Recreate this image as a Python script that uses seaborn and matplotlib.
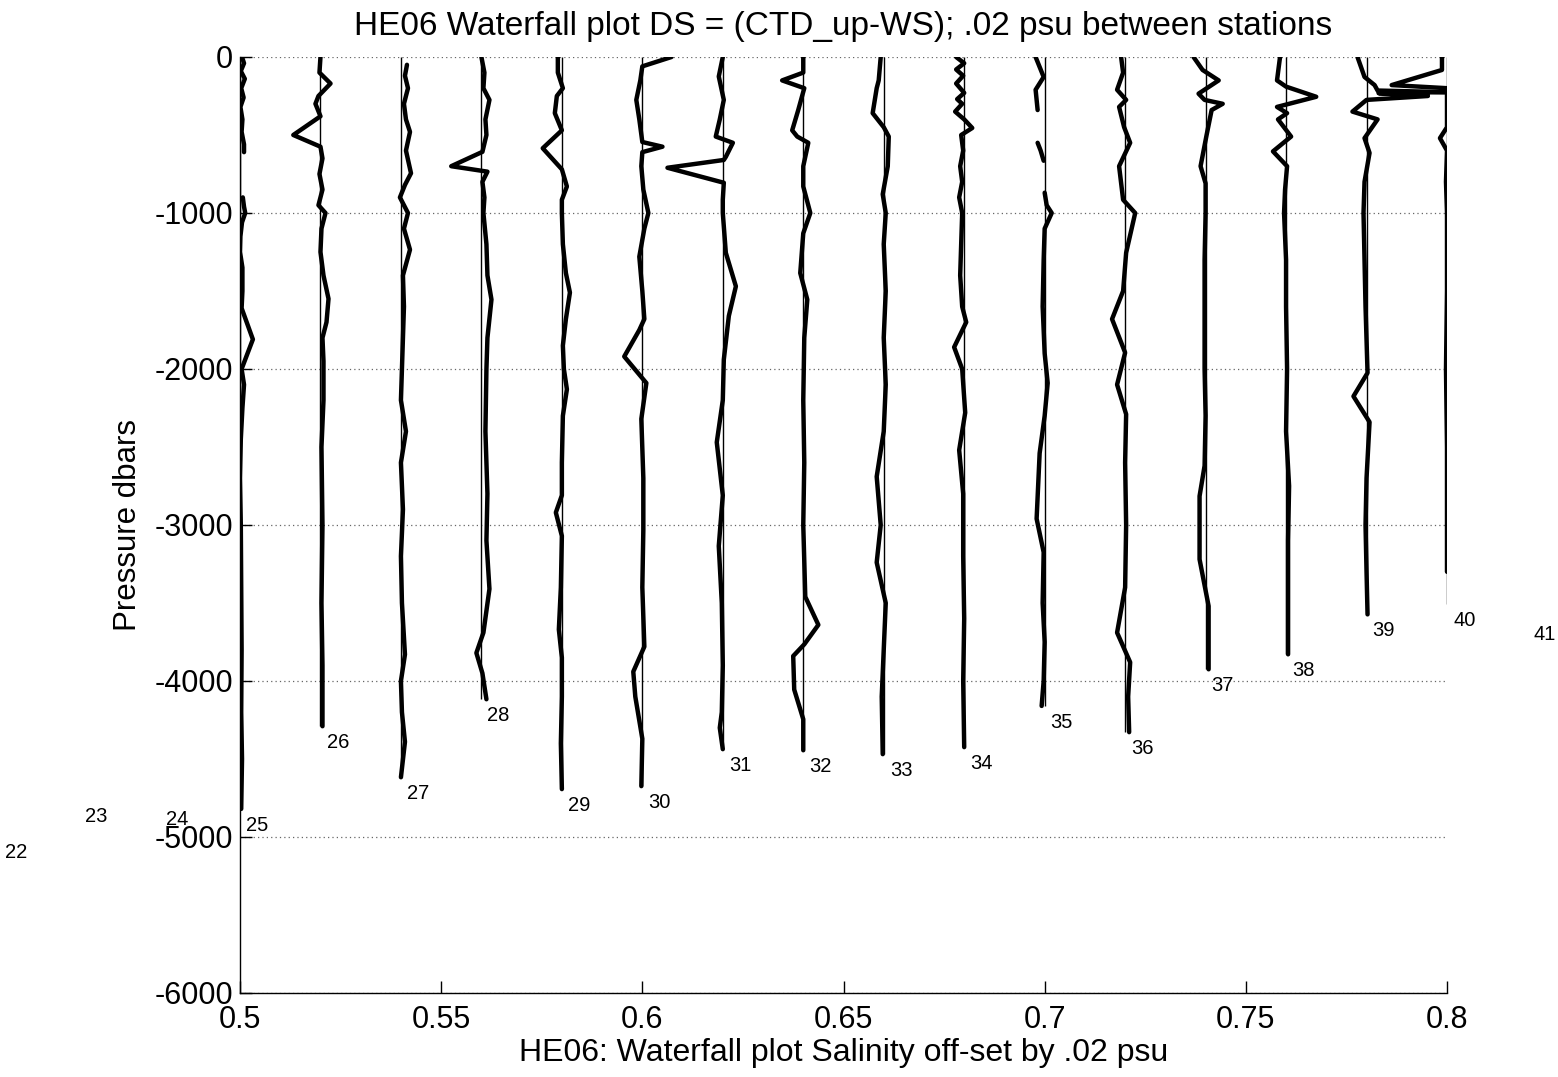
import numpy as np
import pandas as pd
import matplotlib
matplotlib.use("Agg")
import matplotlib.pyplot as plt
import seaborn as sns

# ---------------- data ----------------
stations = [22, 23, 24, 25, 26, 27, 28, 29, 30, 31, 32, 33, 34, 35, 36, 37, 38, 39, 40, 41]
# deepest pressure (dbar) of each station
bottom_p = [4992, 4761, 4781, 4820, 4290, 4617, 4117, 4693, 4674, 4437,
            4444, 4469, 4424, 4160, 4328, 3925, 3829, 3573, 3509, 3596]
step = 0.02          # psu offset between stations
base = 0.5           # offset of station 25

# DS profiles (pressure in dbar, DS in milli-psu); NaN = gap in the record
p25 = [0, 40, 90, 140, 200, 260, 320, 400, 480, 560, 610, np.nan,
       900, 960, 1000, 1060, 1150, 1250, 1350, 1500, 1610, 1810, 2000, 2100, 2250,
       2450, 2700, 3000, 3400, 3800, 4200, 4500, 4820]
ds25 = [0.5, 1.0, 0.2, 1.2, 0.3, 0.9, 0.1, 0.6, 0.4, 1.0, 1.0, np.nan,
        0.7, 1.0, 1.3, 0.5, 0.1, 0.0, 0.6, 0.6, 0.4, 3.2, 0.4, 1.0, 0.6,
        0.2, 0.0, 0.2, 0.3, 0.4, 0.3, 0.5, 0.3]

p26 = [0, 100, 170, 250, 300, 380, 500, 575, 650, 750, 850, 950, 1000, 1100, 1250,
       1400, 1550, 1700, 1800, 1950, 2200, 2500, 3000, 3500, 3900, 4290]
ds26 = [0, -0.25, 2.5, -0.5, -1.25, 0, -6.75, 0, 0.5, -0.25, 0.5, -0.5, 1.25, 0.25, 0,
        0.75, 2.0, 1.5, 0.5, 0.75, 0.75, 0.25, 0.5, 0.25, 0.5, 0.5]

p27 = [50, 120, 200, 300, 400, 480, 600, 745, 820, 900, 1000, 1100, 1235, 1400, 1600,
       1800, 2000, 2200, 2400, 2600, 2900, 3200, 3500, 3830, 4000, 4200, 4390, 4617]
ds27 = [1.5, 1.0, 1.75, 0.75, 1.25, 2.25, 1.25, 2.5, 1.0, -0.25, 1.75, 0.75, 2.25, 0.5, 0.75,
        0.5, 0.25, 0, 1.25, 0, 0.5, 0, 0.25, 1.0, 0, 0.25, 1.0, 0]

p28 = [0, 100, 200, 275, 400, 500, 608, 700, 735, 800, 900, 1000, 1200, 1400, 1555,
       1800, 2000, 2400, 2800, 3100, 3410, 3690, 3820, 3950, 4117]
ds28 = [0, 0.75, 0.5, 2.0, 1.0, 1.25, 0.25, -7.5, 1.5, 0.25, 0.75, 0.5, 1.25, 1.5, 2.5,
        1.5, 1.25, 1.0, 1.5, 1.25, 2.0, 0.5, -1.25, 0.25, 1.25]

p29 = [0, 100, 200, 250, 360, 470, 585, 720, 830, 915, 1000, 1200, 1385, 1510, 1680,
       1850, 2000, 2130, 2300, 2600, 2810, 2920, 3070, 3400, 3670, 3850, 4100, 4400, 4693]
ds29 = [-1.0, -1.0, 0.25, -1.25, -1.75, 0, -4.75, 0, 1.25, 0, 0, 0.25, 1.0, 2.0, 1.0,
        0.25, 0.5, 1.25, 0.25, 0, 0, -1.5, 0, -0.25, -0.75, 0, 0, -0.25, 0]

p30 = [0, 60, 150, 275, 400, 545, 575, 610, 700, 850, 1000, 1100, 1280, 1500, 1680,
       1750, 1920, 2090, 2320, 2700, 3030, 3400, 3780, 3940, 4100, 4370, 4674]
ds30 = [7.25, 0, -0.5, -1.5, -0.75, 0, 5.0, 0, -0.25, 0.25, 1.5, 0.5, -0.75, 0, 0.5,
        -0.75, -4.5, 1.0, -0.25, 0.25, 0.25, 0, 0.5, -2.25, -1.75, 0, -0.25]

p31 = [0, 125, 275, 400, 510, 550, 640, 660, 710, 806, 915, 1000, 1255, 1470, 1660,
       1940, 2200, 2470, 2810, 3135, 3500, 3900, 4200, 4300, 4437]
ds31 = [0, -1.0, 0.25, -0.75, -1.75, 2.5, 0.75, 0.25, -13.75, 0.25, 0, 0, 0.75, 3.25, 1.5,
        0.25, 0, -1.5, 0, -1.0, -0.25, 0, -0.25, -0.75, 0]

p32 = [0, 100, 150, 200, 340, 470, 510, 550, 700, 830, 1000, 1130, 1385, 1555, 1800,
       2200, 2600, 3000, 3460, 3640, 3765, 3840, 4055, 4245, 4444]
ds32 = [0, 0, -5.25, 0.25, -1.25, -2.75, -1.5, 1.25, 0, 0, 1.75, 0, -0.75, 1.0, 0.25,
        0, 0.25, 0, 0.5, 3.75, 0.25, -2.5, -2.25, 0, 0]

p33 = [0, 150, 200, 360, 450, 510, 700, 880, 1000, 1200, 1500, 1800, 2100, 2400, 2690,
       3000, 3240, 3500, 3800, 4100, 4469]
ds33 = [-0.75, -1.25, -1.75, -2.75, 0, 1.25, 1.0, -0.25, 0.5, 0, 0.5, 0, 0.5, 0, -1.75,
        -0.75, -1.75, 0.5, 0, -0.5, -0.25]

p34 = [0, 40, 80, 120, 170, 230, 270, 300, 350, 400, 455, 500, 600, 700, 800, 900, 1000,
       1200, 1400, 1600, 1700, 1860, 2000, 2280, 2520, 2800, 3200, 3600, 4000, 4424]
ds34 = [-2.0, 0, -2.0, -0.25, -2.0, 0, -1.75, -0.5, -2.25, 0, 2.0, -0.75, -0.25, -1.0, -0.5,
        -1.25, -0.5, -0.75, -1.0, -0.5, 0.5, -2.5, -0.5, 0.25, -1.25, -0.25, -0.25, 0, -0.25, 0]

p35 = [0, 128, 210, 340, np.nan, 550, 600, 665, np.nan, 870, 950, 1000, 1100, 1300, 1600,
       1900, 2090, 2300, 2540, 2960, 3175, 3500, 3750, 4000, 4160]
ds35 = [-2.25, -0.25, -2.25, -1.75, np.nan, -1.75, -1.0, -0.25, np.nan, 0, 0.5, 1.75, 0, -0.25, -0.5,
        0, 0.75, 0, -1.25, -2.0, -0.25, -0.5, 0, -0.25, -0.75]

p36 = [0, 100, 210, 275, 320, 450, 550, 700, 915, 1000, 1255, 1500, 1680, 1895, 2100,
       2290, 2600, 3000, 3400, 3690, 3880, 4100, 4328]
ds36 = [-1.0, -0.5, -2.0, 0.25, -1.5, -0.25, 1.25, -1.5, -0.5, 2.5, 0.25, -0.5, -3.25, 0, -2.0,
        0.25, 0, 0.25, 0, -2.0, 1.25, 0.75, 1.0]

p37 = [0, 83, 150, 235, 275, 300, 340, 500, 700, 810, 1000, 1300, 1600, 2000, 2300,
       2620, 2815, 3220, 3520, 3700, 3925]
ds37 = [-3.0, -0.75, 3.25, -1.75, -0.25, 4.25, 1.5, 0.25, -1.25, 0, 0, -0.25, -0.25, -0.25, 0,
        -0.25, -1.5, -1.5, 0.75, 0.75, 0.75]

p38 = [0, 150, 190, 255, 320, 360, 400, 510, 605, 700, 850, 1000, 1300, 1600, 2000,
       2400, 2750, 3100, 3500, 3829]
ds38 = [-1.5, -2.25, 0, 7.5, -2.25, 0.25, -2.0, 1.25, -3.25, 0.25, -0.25, -0.5, 0, 0, 0.25,
        0, 0.75, 0.5, 0.5, 0.5]

p39 = [0, 128, 180, 215, 225, 232, 250, 275, 350, 400, 520, 615, 800, 1000, 1300,
       1600, 2025, 2175, 2340, 2700, 3000, 3300, 3573]
ds39 = [-2.25, -0.5, 2.0, 2.75, 19.5, 3.0, 15.25, 0, -3.5, 2.75, -0.5, 0.75, -0.5, -0.75, -0.5,
        -0.25, 0.25, -3.25, 0.75, 0, -0.25, 0, 0.25]

p40 = [0, 83, 180, 200, 230, 300, 450, 520, 600, 800, 1000, 1500, 2000, 2500, 3000, 3300]
ds40 = [-1.25, -1.25, -13.75, 0, 0, 0, 0, -1.75, 0, -0.25, 0, 0, -0.25, 0, 0, 0]

profiles = {25: (p25, ds25), 26: (p26, ds26), 27: (p27, ds27), 28: (p28, ds28),
            29: (p29, ds29), 30: (p30, ds30), 31: (p31, ds31), 32: (p32, ds32),
            33: (p33, ds33), 34: (p34, ds34), 35: (p35, ds35), 36: (p36, ds36),
            37: (p37, ds37), 38: (p38, ds38), 39: (p39, ds39), 40: (p40, ds40)}

x_ticks = [0.5, 0.55, 0.6, 0.65, 0.7, 0.75, 0.8]
x_tick_labels = ["0.5", "0.55", "0.6", "0.65", "0.7", "0.75", "0.8"]
y_ticks = [0, -1000, -2000, -3000, -4000, -5000, -6000]
y_tick_labels = ["0", "-1000", "-2000", "-3000", "-4000", "-5000", "-6000"]

title = "HE06 Waterfall plot DS = (CTD_up-WS); .02 psu between stations"
xlabel = "HE06: Waterfall plot Salinity off-set by .02 psu"
ylabel = "Pressure dbars"

# ---------------- build long table ----------------
rows = []
seg_id = 0
for st, (pp, dd) in profiles.items():
    off = base + (st - 25) * step
    seg_id += 1
    for p, d in zip(pp, dd):
        if np.isnan(p):
            seg_id += 1
            continue
        rows.append({"station": st, "seg": seg_id,
                     "x": off + d / 1000.0, "pressure": -p})
df = pd.DataFrame(rows)

offsets = [base + (s - 25) * step for s in stations]

# ---------------- plot ----------------
sns.set_theme(style="white")
plt.rcParams["font.family"] = ["Liberation Sans", "DejaVu Sans"]
plt.rcParams["axes.unicode_minus"] = False

fig = plt.figure(figsize=(15.58, 10.77), dpi=100)
ax = fig.add_axes([240 / 1558, 1 - 993 / 1077, (1447 - 240) / 1558, (993 - 57) / 1077])

# reference (zero) lines for each station
vis = [i for i, s in enumerate(stations) if s in profiles]
ax.vlines([offsets[i] for i in vis], [-bottom_p[i] for i in vis], 0,
          color="black", lw=1.0, zorder=2)

sns.lineplot(data=df, x="x", y="pressure", units="seg", estimator=None,
             sort=False, orient="y", color="black", lw=3.2, ax=ax,
             legend=False, zorder=3)

# station labels
for s, off, bp in zip(stations, offsets, bottom_p):
    ax.text(off + 0.0015, -bp - 105, str(s), ha="left", va="center",
            fontsize=14.5, color="black", clip_on=False)

ax.set_xlim(0.5, 0.8)
ax.set_ylim(-6000, 0)
ax.set_xticks(x_ticks)
ax.set_xticklabels(x_tick_labels)
ax.set_yticks(y_ticks)
ax.set_yticklabels(y_tick_labels)
ax.tick_params(axis="both", which="major", direction="in", length=8.5, width=1.0,
               labelsize=22, colors="black", bottom=True, left=True,
               top=False, right=False)
ax.tick_params(axis="x", pad=9)
ax.tick_params(axis="y", pad=5)

ax.yaxis.grid(True, linestyle=(0, (1, 2.5)), color="0.4", lw=0.9)
ax.xaxis.grid(False)
ax.set_axisbelow(True)

for side in ["top", "right"]:
    ax.spines[side].set_visible(False)
for side in ["left", "bottom"]:
    ax.spines[side].set_color("black")
    ax.spines[side].set_linewidth(1.0)

ax.set_title(title, fontsize=24, pad=16, color="black")
ax.set_xlabel(xlabel, fontsize=23, labelpad=2, color="black")
ax.set_ylabel(ylabel, fontsize=22.5, labelpad=8, color="black")

fig.savefig("out.png", dpi=100, facecolor="white")
